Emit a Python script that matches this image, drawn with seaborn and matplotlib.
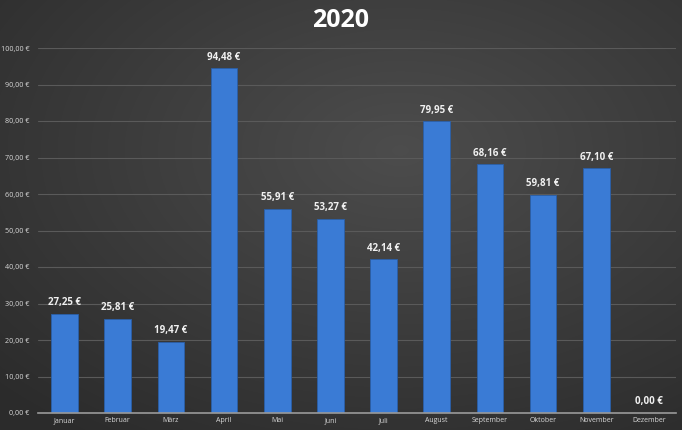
import numpy as np
import pandas as pd
import matplotlib
matplotlib.use("Agg")
import matplotlib.pyplot as plt
import seaborn as sns

months = ["Januar", "Februar", "März", "April", "Mai", "Juni", "Juli",
          "August", "September", "Oktober", "November", "Dezember"]
values = [27.25, 25.81, 19.47, 94.48, 55.91, 53.27, 42.14,
          79.95, 68.16, 59.81, 67.10, 0.00]
yticks = [0, 10, 20, 30, 40, 50, 60, 70, 80, 90, 100]

def eur(v):
    return f"{v:,.2f} €".replace(",", "X").replace(".", ",").replace("X", ".")

sns.set_theme(style="dark")
plt.rcParams['font.family'] = ['Open Sans', 'DejaVu Sans']

fig = plt.figure(figsize=(6.82, 4.30), dpi=100)

# radial gradient background
bg = fig.add_axes([0, 0, 1, 1])
yy, xx = np.mgrid[0:430, 0:682]
r = np.sqrt(((xx - 400) / 682) ** 2 + ((yy - 150) / 430) ** 2)
shade = np.clip(0.30 - 0.16 * r, 0.17, 0.31)
bg.imshow(np.dstack([shade, shade, shade]), aspect="auto", extent=[0, 1, 0, 1])
bg.axis("off")

ax = fig.add_axes([38 / 682, 17 / 430, 638 / 682, 365 / 430])
ax.patch.set_alpha(0)
df = pd.DataFrame({"month": months, "value": values})
sns.barplot(data=df, x="month", y="value", color="#3a7bd5", width=0.5,
            saturation=1, ax=ax, edgecolor="#2a5fa8", linewidth=0.6)
ax.set_xlim(-0.5, 11.5)
ax.set_ylim(0, 100)
ax.set_yticks(yticks)
ax.set_yticklabels([eur(v) for v in yticks], color="#d8d8d8", fontsize=5.2)
ax.tick_params(axis="x", colors="#d8d8d8", labelsize=5.0, length=0, pad=3)
ax.tick_params(axis="y", length=0, pad=6)
ax.set_xlabel("")
ax.set_ylabel("")
ax.grid(axis="y", color="#5a5a5a", linewidth=0.8)
ax.set_axisbelow(True)
for s in ["top", "right", "left"]:
    ax.spines[s].set_visible(False)
ax.spines["bottom"].set_color("#9a9a9a")
ax.spines["bottom"].set_linewidth(1.2)

for i, v in enumerate(values):
    ax.annotate(eur(v), (i, v), xytext=(0, 4), textcoords="offset points",
                ha="center", va="bottom", color="#f0f0f0", fontsize=7,
                fontweight="bold")

fig.text(0.5, 0.953, "2020", ha="center", va="center", color="white",
         fontsize=18, fontweight="bold")

fig.savefig("out.png", dpi=100)
